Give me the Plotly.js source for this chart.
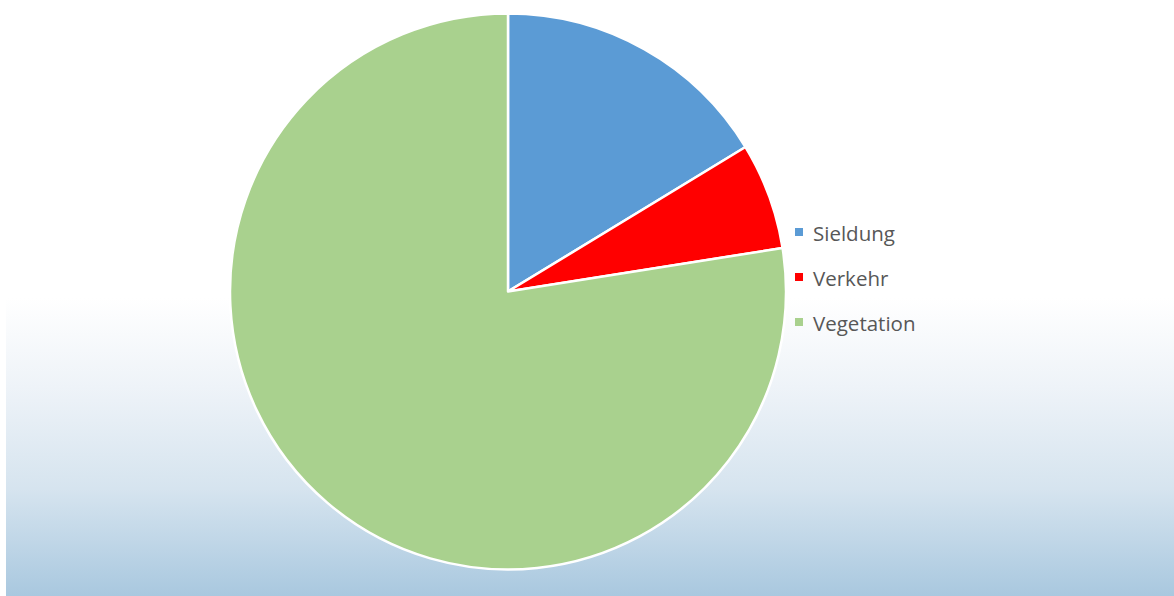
<!DOCTYPE html>
<html>
<head>
<meta charset="utf-8">
<script src="https://cdn.plot.ly/plotly-3.0.1.min.js"></script>
<style>
  html, body { margin: 0; padding: 0; background: #ffffff; }
  #wrap { width: 1174px; height: 596px; position: relative; background: #ffffff; }
  #bg { position: absolute; left: 6px; top: 0; right: 0; bottom: 0;
        background: linear-gradient(to bottom, #ffffff 0%, #ffffff 50%, #eef3f8 65%, #d6e4ef 82%, #a9c8df 100%); }
  #chart { position: absolute; left: 0; top: 0; width: 1174px; height: 596px; }
</style>
</head>
<body>
<div id="wrap"><div id="bg"></div><div id="chart"></div></div>
<script>
const categories = ["Sieldung", "Verkehr", "Vegetation"];
const values = [16.3, 6.2, 77.5];
const colors = ["#5b9bd5", "#ff0000", "#a9d18e"];

const W = 1174, H = 596;
const legendX = 795, legendY0 = 232, legendStep = 45;

const annotations = categories.map((c, i) => ({
  xref: "paper", yref: "paper",
  x: (legendX + 16) / W, y: 1 - (legendY0 + 1 + i * legendStep) / H,
  xanchor: "left", yanchor: "middle",
  text: c, showarrow: false,
  font: { family: "Open Sans, sans-serif", size: 20.5, color: "#575757" }
}));
const shapes = categories.map((c, i) => ({
  type: "rect", xref: "paper", yref: "paper",
  x0: legendX / W, x1: (legendX + 8) / W,
  y0: 1 - (legendY0 + i * legendStep + 4) / H,
  y1: 1 - (legendY0 + i * legendStep - 4) / H,
  fillcolor: colors[i], line: { width: 0 }
}));

const trace = {
  type: "pie",
  labels: categories,
  values: values,
  sort: false,
  direction: "clockwise",
  rotation: 0,
  textinfo: "none",
  hoverinfo: "label+percent",
  marker: { colors: colors, line: { color: "#ffffff", width: 2.5 } },
  domain: { x: [230 / W, 786 / W], y: [1 - 571 / H, 1 - 12 / H] },
  showlegend: false
};

Plotly.newPlot("chart", [trace], {
  width: W, height: H,
  margin: { l: 0, r: 0, t: 0, b: 0 },
  paper_bgcolor: "rgba(0,0,0,0)",
  plot_bgcolor: "rgba(0,0,0,0)",
  showlegend: false,
  annotations: annotations,
  shapes: shapes
}, { displayModeBar: false, staticPlot: true });
</script>
</body>
</html>
